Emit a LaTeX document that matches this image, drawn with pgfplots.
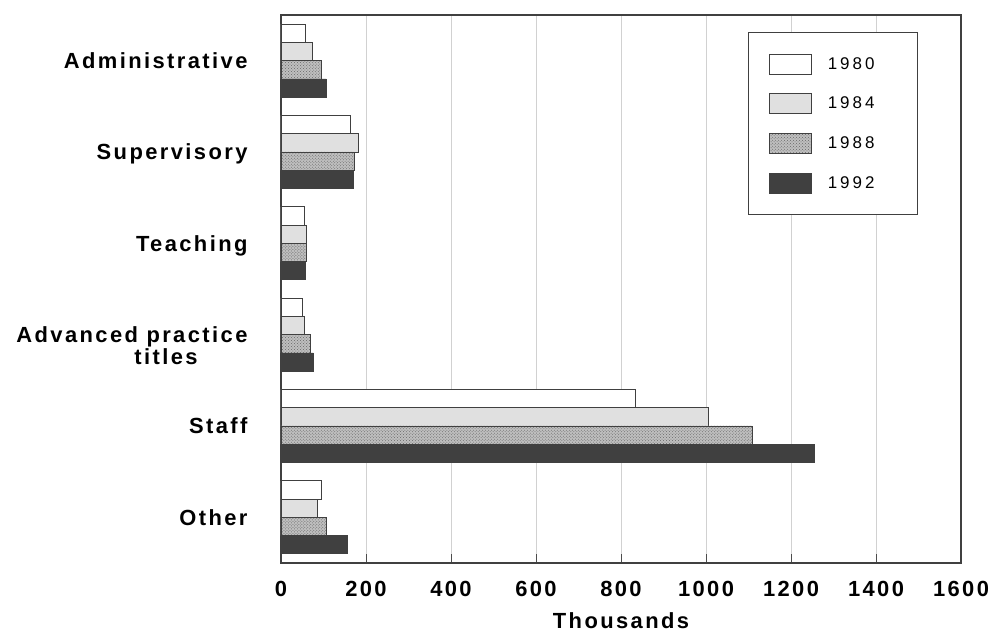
\documentclass[border=0pt]{standalone}
\usepackage{fontspec}
\setmainfont{Liberation Sans}[LetterSpace=11]
\usepackage{pgfplots}
\pgfplotsset{compat=1.18}
\usetikzlibrary{patterns}
\newcommand{\lf}{\fontsize{22}{22}\selectfont\bfseries}
\begin{document}
\begin{tikzpicture}
\begin{axis}[
  name=ax,
  scale only axis, width=680bp, height=548bp,
  xbar, xmin=0, xmax=1600, ymin=0.5, ymax=6.5, y dir=reverse,
  bar width=0.2,
  axis line style={black!75, line width=1.1pt},
  xtick={0,200,...,1600},
  xtick pos=bottom, tick align=inside,
  major tick length=9bp,
  x tick style={black!70, line width=0.8pt},
  ytick={1,...,6},
  y tick style={draw=none},
  yticklabels={Administrative, Supervisory, Teaching, {\smash{\begin{tabular}[t]{@{}c@{}}Advanced practice\\[-1bp]\hspace*{68bp}titles\end{tabular}}}, Staff, Other},
  yticklabel style={font=\lf, anchor=base east, yshift=-8bp, xshift=-30bp},
  xticklabel style={font=\lf, yshift=-15bp},
  /pgf/number format/assume math mode=true,
  /pgf/number format/1000 sep={},
  xmajorgrids, major grid style={black!18, line width=0.6pt},
  xlabel={Thousands},
  xlabel style={font=\lf, yshift=-9bp},
  legend cell align=left,
  legend style={at={(0.937,0.969)}, anchor=north east, draw=black!75, line width=1.1pt,
    font=\fontsize{17}{17}\selectfont\addfontfeatures{LetterSpace=18}, row sep=19bp, inner xsep=21bp, inner ysep=21bp,
    /tikz/every odd column/.append style={column sep=14bp}},
  legend image code/.code={\draw[#1, line width=0.7pt] (0bp,-10bp) rectangle (42bp,10bp);},
  every axis plot/.append style={draw=black!75, line width=0.8pt},
]
\addplot[fill=white, bar shift=-0.3] coordinates {(57,1) (163,2) (55,3) (50,4) (835,5) (94,6)};
\addplot[fill=black!12, bar shift=-0.1] coordinates {(73,1) (182,2) (60,3) (55,4) (1005,5) (85,6)};
\addplot[fill=black!25, postaction={pattern=crosshatch dots, pattern color=black!60}, bar shift=0.1] coordinates {(94,1) (172,2) (60,3) (70,4) (1108,5) (106,6)};
\addplot[fill=black!75, bar shift=0.3] coordinates {(106,1) (170,2) (58,3) (76,4) (1255,5) (156,6)};
\legend{1980\hspace*{20bp},1984\hspace*{20bp},1988\hspace*{20bp},1992\hspace*{20bp}}
\end{axis}
\pgfresetboundingbox
\useasboundingbox ([shift={(-281bp,-69bp)}]ax.south west) rectangle ([shift={(35bp,15bp)}]ax.north east);
\end{tikzpicture}
\end{document}
